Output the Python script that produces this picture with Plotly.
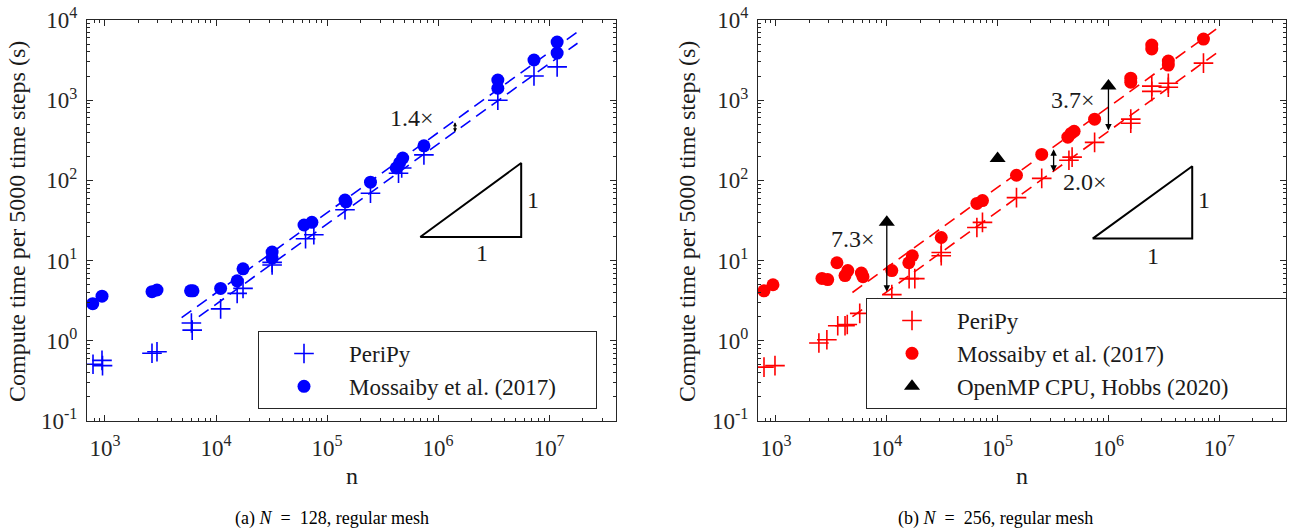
import plotly.graph_objects as go
import math

# ---------------- data: panel (a) N = 128 ----------------
a_peripy_n = [780, 940, 950, 2650, 2940, 6000, 6100, 11000, 15500, 17500, 32000, 32000,
              64000, 76000, 145000, 246000, 440000, 470000, 745000, 3.45e6, 7.3e6, 1.18e7]
a_peripy_t = [0.51, 0.57, 0.49, 0.70, 0.73, 1.67, 1.36, 2.5, 3.9, 4.5, 8.8, 9.5,
              18.7, 21, 43, 69, 123, 143, 208, 1000, 2000, 2600]
a_moss_n = [776, 940, 2650, 2940, 5900, 6200, 11000, 15500, 17500, 32000, 32000, 62000, 73000,
            145000, 148000, 246000, 420000, 450000, 480000, 745000, 3.45e6, 3.45e6, 7.3e6,
            1.18e7, 1.18e7]
a_moss_t = [2.9, 3.6, 4.1, 4.3, 4.2, 4.2, 4.5, 5.6, 7.9, 12.8, 10.7, 27.8, 30,
            57, 54, 95, 143, 165, 190, 270, 1780, 1410, 3170, 5300, 3870]
a_fit_upper_n = [4900, 1.8e7]
a_fit_upper_t = [1.94, 7100]
a_fit_lower_n = [7000, 1.8e7]
a_fit_lower_t = [2.0, 5130]

# ---------------- data: panel (b) N = 256 ----------------
b_peripy_n = [780, 980, 2440, 2880, 3610, 4200, 4400, 5700, 11100, 15900, 17900, 31000, 31000,
              65000, 73000, 148000, 250000, 440000, 470000, 750000, 1.59e6, 1.59e6, 2.46e6,
              2.46e6, 3.47e6, 3.47e6, 7.2e6]
b_peripy_t = [0.47, 0.49, 0.94, 1.03, 1.54, 1.54, 1.6, 2.2, 3.76, 5.96, 5.96, 12.6, 11.5,
              25.9, 30, 61, 106, 178, 195, 298, 580, 515, 1500, 1290, 1630, 1450, 2900]
b_moss_n = [780, 940, 2600, 2930, 3550, 4200, 4450, 5900, 6100, 11100, 15800, 17000, 31000,
            65000, 73000, 148000, 250000, 430000, 460000, 490000, 750000, 1.59e6, 1.59e6,
            2.46e6, 2.46e6, 3.47e6, 3.47e6, 7.2e6]
b_moss_t = [4.2, 5.0, 6.0, 5.8, 9.4, 6.5, 7.5, 7.0, 6.3, 7.5, 9.4, 11.5, 19.4,
            51.6, 56, 116, 211, 346, 385, 410, 580, 1880, 1680, 4870, 4350, 3080, 2740, 5790]
b_openmp_n = [1e4, 1e5, 1e6]
b_openmp_t = [30, 188, 1500]
b_fit_upper_n = [4900, 1.0e7]
b_fit_upper_t = [4.0, 8200]
b_fit_lower_n = [4900, 1.0e7]
b_fit_lower_t = [2.0, 4100]

# slope triangles (n, t)
a_tri_n = [6.9e5, 5.6e6, 5.6e6, 6.9e5]
a_tri_t = [19.7, 19.7, 165, 19.7]
b_tri_n = [7.2e5, 5.7e6, 5.7e6, 7.2e5]
b_tri_t = [18.8, 18.8, 150, 18.8]

# speed-up arrows: (n, t_from, t_to, label)
a_ratio = [(1.42e6, 553, 399, "1.4×")]
b_ratio = [(1e4, 30, 4.1, "7.3×"), (1e6, 1500, 420, "3.7×"), (3.2e5, 255, 128, "2.0×")]

y_tickvals = [0.1, 1, 10, 100, 1000, 10000]
y_ticktext = ["10<sup>-1</sup>", "10<sup>0</sup>", "10<sup>1</sup>", "10<sup>2</sup>",
              "10<sup>3</sup>", "10<sup>4</sup>"]
x_tickvals = [1e3, 1e4, 1e5, 1e6, 1e7]
x_ticktext = ["10<sup>3</sup>", "10<sup>4</sup>", "10<sup>5</sup>", "10<sup>6</sup>",
              "10<sup>7</sup>"]

FONT = "Liberation Serif"
BLUE = "#0000ff"
RED = "#ff0000"
AX = "#262626"
TXT = "#1a1a1a"
W, H = 1291, 529
PAD_A = "\u00a0" * 6
PAD_B = "\u00a0" * 9

minor_y = [m * 10 ** e for e in range(-1, 4) for m in range(2, 10)]
minor_x = [m * 10 ** e for e in range(2, 8) for m in range(2, 10)]

fig = go.Figure()


def add_panel(xa, ya, leg, color, pn, pt, mn, mt, fits, pad):
    for fn, ft in fits:
        fig.add_trace(go.Scatter(x=fn, y=ft, mode="lines", showlegend=False,
                                 line=dict(color=color, width=1.6, dash="12px,7px"),
                                 xaxis=xa, yaxis=ya, hoverinfo="skip"))
    fig.add_trace(go.Scatter(x=pn, y=pt, mode="markers", name="PeriPy", legend=leg,
                             marker=dict(symbol="cross-thin", size=14, color=color,
                                         line=dict(width=1.6, color=color)),
                             xaxis=xa, yaxis=ya))
    fig.add_trace(go.Scatter(x=mn, y=mt, mode="markers", name="Mossaiby et al. (2017)" + pad,
                             legend=leg, marker=dict(symbol="circle", size=13, color=color),
                             xaxis=xa, yaxis=ya))


add_panel("x", "y", "legend", BLUE, a_peripy_n, a_peripy_t, a_moss_n, a_moss_t,
          [(a_fit_upper_n, a_fit_upper_t), (a_fit_lower_n, a_fit_lower_t)], PAD_A)
add_panel("x2", "y2", "legend2", RED, b_peripy_n, b_peripy_t, b_moss_n, b_moss_t,
          [(b_fit_upper_n, b_fit_upper_t), (b_fit_lower_n, b_fit_lower_t)], "")

# slope triangles
fig.add_trace(go.Scatter(x=a_tri_n, y=a_tri_t, mode="lines", showlegend=False,
                         line=dict(color="black", width=2), xaxis="x", yaxis="y", hoverinfo="skip"))
fig.add_trace(go.Scatter(x=b_tri_n, y=b_tri_t, mode="lines", showlegend=False,
                         line=dict(color="black", width=2), xaxis="x2", yaxis="y2", hoverinfo="skip"))

fig.add_trace(go.Scatter(x=b_openmp_n, y=b_openmp_t, mode="markers",
                         name="OpenMP CPU, Hobbs (2020)" + PAD_B,
                         legend="legend2", marker=dict(symbol="triangle-up", size=14, color="black"),
                         xaxis="x2", yaxis="y2"))

ann = []
# arrows
for (n, t0, t1, lab), xr, yr in [(r, "x", "y") for r in a_ratio] + [(r, "x2", "y2") for r in b_ratio]:
    side = "end" if lab in ("7.3×", "3.7×") else "end+start"
    ann.append(dict(x=math.log10(n), y=math.log10(t1), ax=math.log10(n), ay=math.log10(t0),
                    xref=xr, yref=yr, axref=xr, ayref=yr, showarrow=True, arrowhead=2,
                    arrowsize=1.0 if lab != "1.4×" else 0.6, arrowwidth=1.3, arrowcolor="black",
                    arrowside=side, text="", standoff=0, startstandoff=0))

# ratio labels (log-coordinates of label centres)
txt_font = dict(family=FONT, size=24, color=TXT)
labels = [("1.4×", "x", "y", 5.766, 2.778),
          ("7.3×", "x2", "y2", 3.694, 1.275),
          ("3.7×", "x2", "y2", 5.676, 3.0),
          ("2.0×", "x2", "y2", 5.784, 1.975),
          ("1", "x", "y", 6.856, 1.756),
          ("1", "x", "y", 6.396, 1.095),
          ("1", "x2", "y2", 6.865, 1.75),
          ("1", "x2", "y2", 6.405, 1.06)]
for t, xr, yr, lx, ly in labels:
    ann.append(dict(text=t, x=lx, y=ly, xref=xr, yref=yr, showarrow=False, font=txt_font))

title_font = dict(family=FONT, size=24, color=TXT)
ytitle = "Compute time per 5000 time steps (s)"
cap_font = dict(family=FONT, size=18, color="black")
ann += [
    dict(text=ytitle, x=17 / W, y=1 - 222 / H, xref="paper", yref="paper", textangle=-90,
         showarrow=False, font=title_font, xanchor="center", yanchor="middle"),
    dict(text=ytitle, x=687 / W, y=1 - 222 / H, xref="paper", yref="paper", textangle=-90,
         showarrow=False, font=title_font, xanchor="center", yanchor="middle"),
    dict(text="n", x=352 / W, y=1 - 476 / H, xref="paper", yref="paper", showarrow=False,
         font=title_font, xanchor="center", yanchor="middle"),
    dict(text="n", x=1022 / W, y=1 - 476 / H, xref="paper", yref="paper", showarrow=False,
         font=title_font, xanchor="center", yanchor="middle"),
    dict(text="(a) <i>N</i>\u00a0\u00a0=\u00a0\u00a0128, regular mesh", x=332 / W, y=1 - 518 / H,
         xref="paper", yref="paper", showarrow=False, font=cap_font,
         xanchor="center", yanchor="middle"),
    dict(text="(b) <i>N</i>\u00a0\u00a0=\u00a0\u00a0256, regular mesh", x=995 / W, y=1 - 518 / H,
         xref="paper", yref="paper", showarrow=False, font=cap_font,
         xanchor="center", yanchor="middle"),
]


def xaxis(dom, anchor):
    return dict(type="log", domain=dom, anchor=anchor, range=[2.838, 7.602], showline=True,
                linecolor=AX, linewidth=1, mirror="allticks", ticks="inside", ticklen=6,
                tickcolor=AX, showgrid=False, zeroline=False, automargin=False,
                tickmode="array", tickvals=x_tickvals, ticktext=x_ticktext,
                tickfont=dict(family=FONT, size=23, color=AX), ticklabelstandoff=6,
                minor=dict(tickmode="array", tickvals=minor_x, ticks="inside", ticklen=3,
                           tickcolor=AX, showgrid=False))


def yaxis(anchor):
    return dict(type="log", domain=[1 - 421 / H, 1 - 20 / H], anchor=anchor, range=[-1, 4],
                showline=True, linecolor=AX, linewidth=1, mirror="allticks", ticks="inside",
                ticklen=6, tickcolor=AX, showgrid=False, zeroline=False, automargin=False,
                tickmode="array", tickvals=y_tickvals, ticktext=y_ticktext,
                tickfont=dict(family=FONT, size=23, color=AX), ticklabelstandoff=4,
                minor=dict(tickmode="array", tickvals=minor_y, ticks="inside", ticklen=3,
                           tickcolor=AX, showgrid=False))


leg_common = dict(bgcolor="white", bordercolor=AX, borderwidth=1, xanchor="left",
                  yanchor="top", font=dict(family=FONT, size=23, color=TXT),
                  itemwidth=80, tracegroupgap=0)

fig.update_layout(
    width=W, height=H, margin=dict(l=0, r=0, t=0, b=0),
    paper_bgcolor="white", plot_bgcolor="white", template="none",
    font=dict(family=FONT),
    xaxis=xaxis([87 / W, 616 / W], "y"),
    yaxis=yaxis("x"),
    xaxis2=xaxis([758 / W, 1286 / W], "y2"),
    yaxis2=yaxis("x2"),
    legend=dict(x=258 / W, y=1 - 331 / H, **leg_common),
    legend2=dict(x=866 / W, y=1 - 298 / H, **leg_common),
    annotations=ann,
    showlegend=True,
)

fig.write_html("out.html")
